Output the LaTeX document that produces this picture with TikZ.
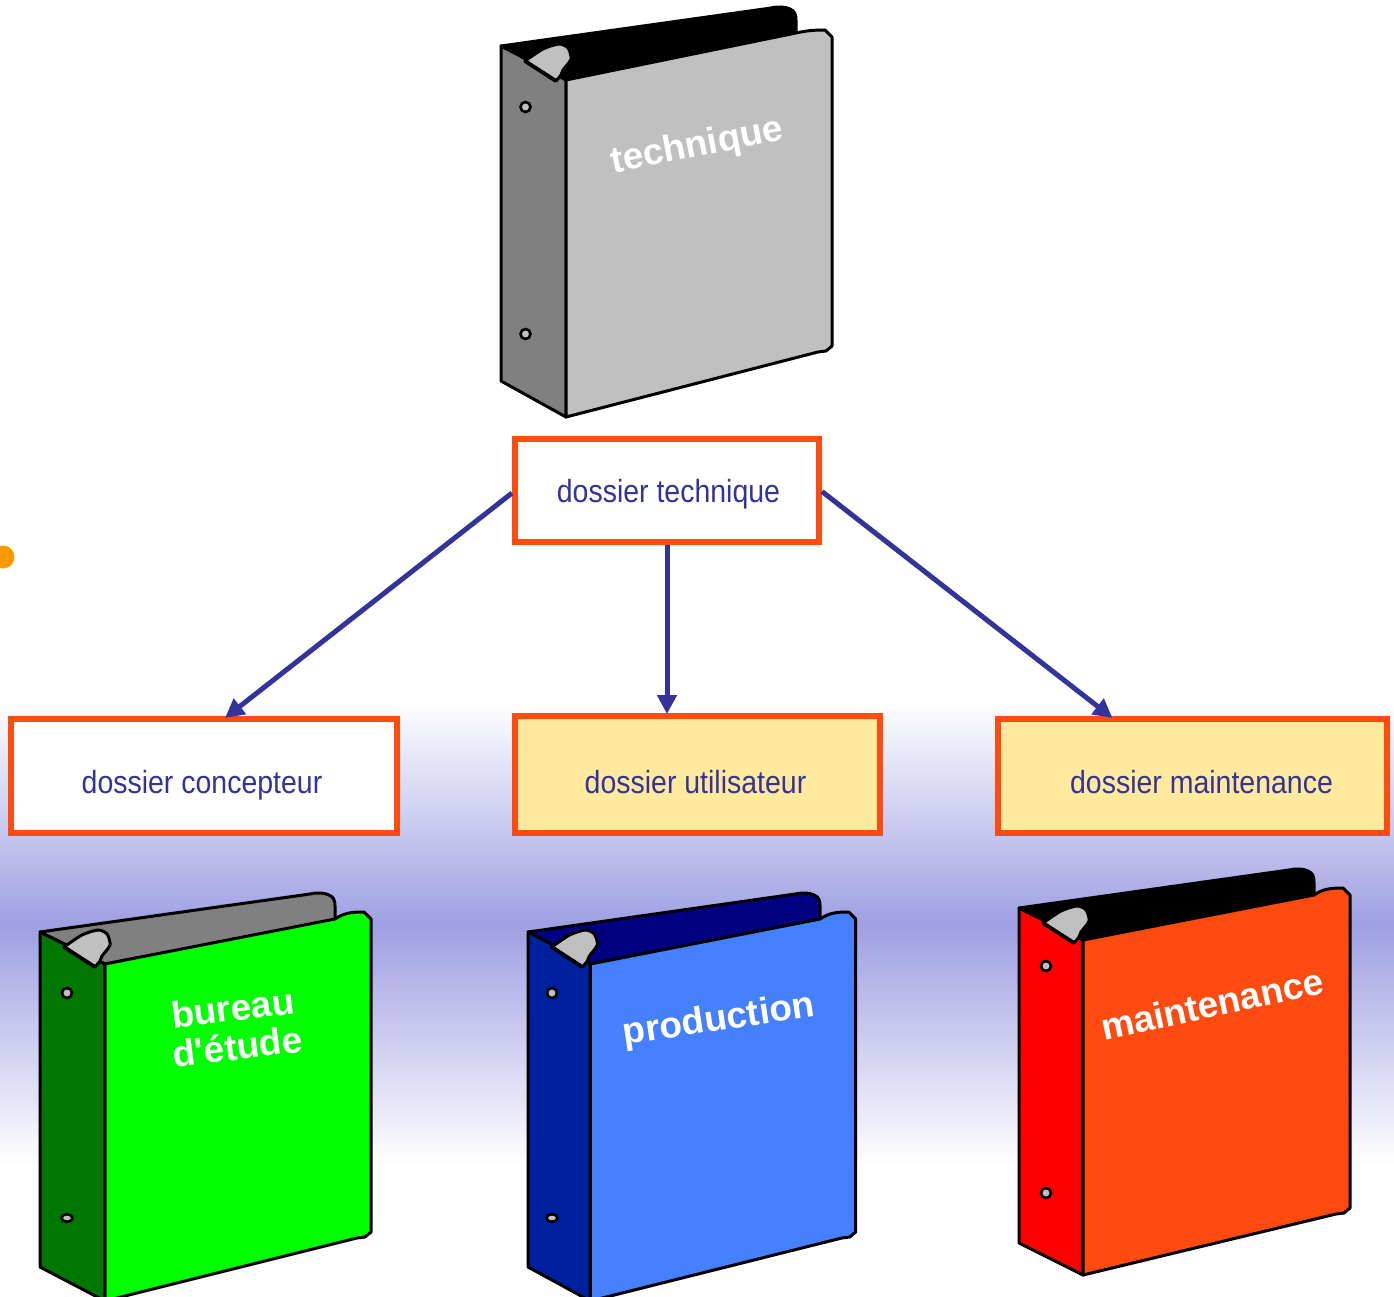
\documentclass[tikz,border=0pt]{standalone}
\usepackage{fontspec}
\setmainfont{Liberation Sans}
\newfontfamily\boxfont[FakeStretch=0.89]{Liberation Sans}
\newfontfamily\coverfont{Liberation Sans}
\usetikzlibrary{arrows.meta}
\definecolor{bandblue}{HTML}{9F9FE3}
\definecolor{framered}{HTML}{FF4A10}
\definecolor{paleyellow}{HTML}{FFE99C}
\definecolor{linkblue}{HTML}{333399}
\definecolor{dotorange}{HTML}{FF9900}
\definecolor{clipgrey}{HTML}{C0C0C0}
\definecolor{spinegrey}{HTML}{808080}
\definecolor{spinegreen}{HTML}{007700}
\definecolor{spineblue}{HTML}{00209F}
\definecolor{rodblue}{HTML}{000080}
\definecolor{coverblue}{HTML}{4480FF}
\tikzset{
  labelbox/.style={draw=framered,line width=6pt,fill=white,inner sep=0pt,text=linkblue,
    font=\boxfont\fontsize{32}{32}\selectfont},
  yellowbox/.style={labelbox,fill=paleyellow},
  link/.style={draw=linkblue,line width=5pt,-{Triangle[length=19pt,width=19pt]}},
  binderline/.style={draw=black,line width=3pt,line join=round},
  covertext/.style={text=white,font=\coverfont\bfseries\fontsize{37}{39}\selectfont,inner sep=0pt,align=center},
  hole/.style={draw=black,line width=2.6pt,fill=clipgrey},
}
% #1 horizontal move, #2 baseline below the centre of the box, #3 text
\newcommand{\placedtext}[3]{\raisebox{-#2pt}[0pt][0pt]{\hspace{#1pt}#3}}
% #1 shift, #2 xscale, #3 spine colour, #4 rod colour, #5 cover colour, #6 bottom corner y, #7 spine right x, #8 cover corner y, #9 spine top y
\newcommand{\binderdrawing}[9]{%
  \begin{scope}[shift={#1},xscale=#2]
    \path[binderline,fill=#4] (501,46) -- (771,8) .. controls (778,6) and (786,7) .. (790,9)
      .. controls (795,11) and (796,15) .. (796,20) -- (796,35) -- (#7,#9) -- cycle;
    \path[binderline,fill=#3] (501,46) -- (#7,#9) -- (#7,#6) -- (501,381) -- cycle;
    \path[binderline,fill=#5] (#7,#9) -- (796,33) .. controls (805,#8+1) and (812,#8) .. (825,#8)
      -- (832,#8+7) -- (832,346) -- (826,351) -- (818,352) -- (#7,#6) -- cycle;
    \path[binderline,fill=clipgrey] plot[smooth,tension=.45] coordinates
      {(525,61) (543,49) (559,44) (568,48) (571,59) (563,70) (561,75) (556,81)} -- cycle;
    \draw[black,line width=3.8pt] (525,61) -- (556,81);
  \end{scope}}
\begin{document}
\begin{tikzpicture}[x=1pt,y=-1pt]
  \useasboundingbox (0,0) rectangle (1394,1297);
  \clip (0,0) rectangle (1394,1297);
  \fill[white] (0,0) rectangle (1394,1297);
  \shade[top color=white,bottom color=bandblue] (0,700) rectangle (1394,925);
  \shade[top color=bandblue,bottom color=white] (0,925) rectangle (1394,1165);
  \fill[dotorange] (3,557) circle (11.5);

  \binderdrawing{(0,0)}{1}{spinegrey}{black}{clipgrey}{417}{566}{30}{80}
  \binderdrawing{(-461,886)}{1}{spinegreen}{spinegrey}{green}{415}{566}{26}{78}
  \binderdrawing{(32,886)}{0.99}{spineblue}{rodblue}{coverblue}{415}{564}{26}{78}
  \binderdrawing{(518,862)}{1}{red}{black}{framered}{413}{565}{26}{78}

  \draw[hole] (525.5,107) circle (5);
  \draw[hole] (525.5,334) circle (5);
  \draw[hole] (67,993) circle (5);
  \draw[hole] (67,1218) ellipse (5.5 and 3.8);
  \draw[hole] (552,993) circle (5);
  \draw[hole] (552,1218) ellipse (5.5 and 3.8);
  \draw[hole] (1046,966) circle (5);
  \draw[hole] (1046,1193) circle (5);

  \node[covertext,rotate=11] (ctech) at (697,147) {technique};
  \node[covertext,rotate=7] (cbur) at (235,1027) {bureau\\d'étude};
  \node[covertext,rotate=8.5] (cprod) at (719,1021) {production};
  \node[covertext,rotate=12] (cmaint) at (1212,1004) {maintenance};

  \node[labelbox,minimum width=304pt,minimum height=103pt] (top) at (667,490.5) {\placedtext{3}{12}{dossier technique}};
  \node[labelbox,minimum width=386pt,minimum height=114pt] (conc) at (204,776) {\placedtext{-4}{17}{dossier concepteur}};
  \node[yellowbox,minimum width=365pt,minimum height=117pt] (util) at (697.5,774.5) {\placedtext{-4}{19}{dossier utilisateur}};
  \node[yellowbox,minimum width=389pt,minimum height=114pt] (maint) at (1192.5,776) {\placedtext{18}{17.5}{dossier maintenance}};

  \coordinate (concin) at ([xshift=21pt,yshift=-2pt]conc.north);
  \coordinate (utilin) at ([xshift=-30.5pt,yshift=-1pt]util.north);
  \coordinate (maintin) at ([xshift=-80pt,yshift=-2pt]maint.north);
  \coordinate (topleft) at ([yshift=-2.5pt]top.west);
  \coordinate (topright) at ([yshift=-1pt]top.east);
  \draw[link] (topleft) -- (concin);
  \draw[link] (top.south) -- (utilin);
  \draw[link] (topright) -- (maintin);
\end{tikzpicture}
\end{document}
